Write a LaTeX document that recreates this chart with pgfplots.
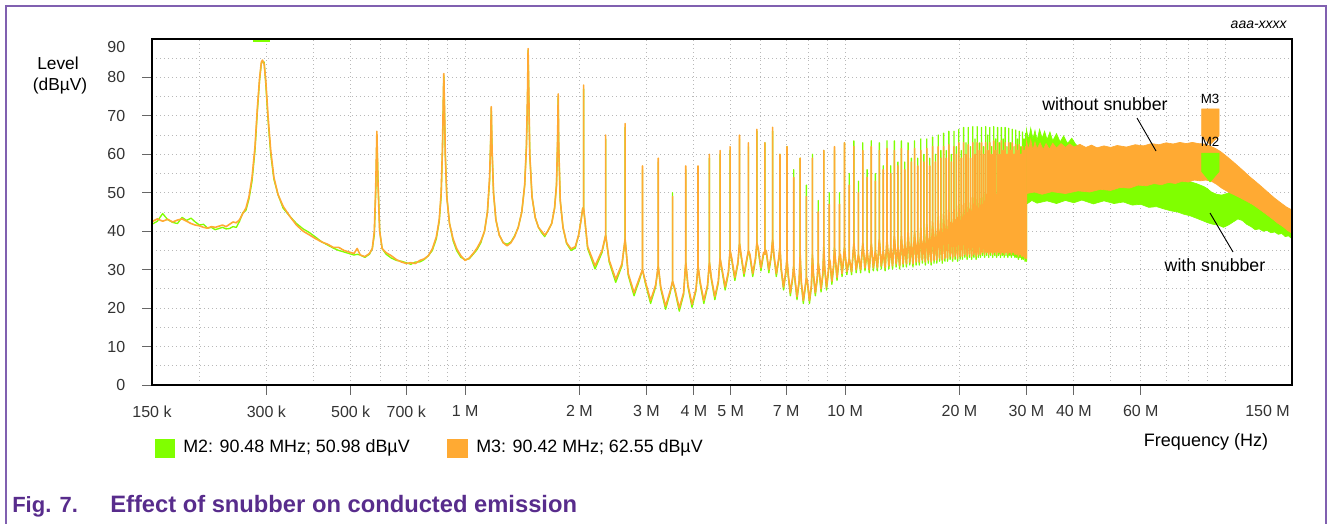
\documentclass[border=0pt]{standalone}
\usepackage{fontspec}
\setmainfont{Liberation Sans}
\usepackage{pgfplots}
\pgfplotsset{compat=1.18}
\usepackage{pgfplotstable}
\definecolor{cgreen}{RGB}{128,255,0}
\definecolor{corange}{RGB}{255,170,51}
\definecolor{cpurple}{RGB}{88,44,140}
\definecolor{cframe}{RGB}{128,96,176}

\pgfplotstableread{
f o g
0.150 42.5 41.8
0.155 43.2 42.6
0.160 42.6 44.6
0.165 43.1 43.0
0.170 42.4 42.3
0.175 42.9 42.0
0.180 43.2 43.6
0.185 42.6 42.8
0.190 42.0 43.4
0.195 41.6 42.4
0.200 41.4 41.6
0.205 41.0 41.8
0.210 40.8 40.8
0.215 41.2 41.0
0.220 41.0 40.4
0.230 41.6 41.0
0.235 41.2 40.6
0.240 41.8 40.7
0.245 42.4 41.2
0.250 42.2 41.0
0.255 43.0 42.6
0.260 44.6 44.8
0.265 46.0 45.4
0.270 49.0 48.4
0.275 54.0 53.0
0.280 62.0 61.0
0.284 72.0 71.0
0.288 80.0 79.5
0.291 84.0 83.6
0.293 84.5 84.2
0.296 83.5 84.0
0.299 79.0 78.0
0.303 70.0 69.0
0.308 61.0 60.0
0.314 54.0 53.5
0.322 49.5 49.5
0.332 46.5 46.0
0.345 44.0 44.0
0.360 41.6 42.0
0.375 40.0 40.6
0.390 39.0 39.6
0.405 38.0 38.4
0.420 37.2 37.2
0.435 36.6 36.4
0.450 35.8 35.6
0.465 35.8 35.0
0.480 35.0 34.6
0.495 34.6 34.2
0.510 34.2 33.8
0.520 35.5 34.0
0.530 33.8 33.8
0.545 33.4 33.2
0.560 34.2 34.0
0.570 35.5 35.5
0.577 40.0 39.0
0.582 52.0 50.0
0.586 66.0 64.5
0.590 52.0 54.0
0.596 40.0 40.0
0.605 35.5 35.5
0.620 34.4 34.0
0.640 33.6 33.0
0.660 32.6 32.4
0.680 32.0 32.2
0.700 31.6 31.8
0.720 31.8 31.4
0.740 31.6 32.0
0.760 32.4 32.0
0.780 32.8 32.6
0.800 33.6 33.6
0.820 35.4 35.0
0.840 38.5 38.0
0.855 43.0 42.5
0.865 50.0 49.0
0.872 62.0 61.0
0.877 76.0 75.0
0.879 81.0 80.5
0.882 74.0 74.0
0.887 60.0 60.0
0.895 49.0 49.0
0.910 42.0 42.0
0.930 38.0 37.5
0.950 35.5 35.0
0.975 33.6 33.2
1.000 32.4 32.6
1.025 33.0 32.8
1.050 34.2 34.0
1.075 35.6 35.2
1.100 37.4 37.0
1.125 40.0 40.0
1.145 45.0 45.0
1.160 54.0 53.0
1.168 64.0 64.0
1.172 72.4 72.0
1.177 62.0 62.0
1.188 50.0 50.0
1.205 43.0 43.0
1.230 39.0 39.0
1.260 37.0 37.0
1.290 36.2 36.6
1.320 37.0 37.2
1.350 38.6 38.8
1.380 41.0 41.0
1.410 45.0 45.0
1.435 52.0 52.0
1.450 62.0 62.0
1.460 76.0 74.0
1.465 87.5 87.0
1.470 78.0 78.0
1.480 60.0 60.0
1.500 49.0 49.0
1.530 43.5 43.5
1.560 41.0 41.0
1.590 40.0 39.6
1.620 39.0 38.6
1.650 40.0 40.0
1.690 42.0 42.0
1.720 46.0 46.0
1.740 52.0 52.0
1.752 64.0 64.0
1.758 75.7 75.0
1.764 62.0 62.0
1.780 48.0 48.0
1.810 41.0 41.0
1.850 37.0 36.8
1.900 35.4 35.0
1.950 36.0 35.6
1.990 39.0 39.0
2.020 43.0 43.0
2.040 46.0 46.0
2.051 46 46
2.051 78 77
2.051 46 46
2.101 36 35.5
2.198 31 30.2
2.294 35 34.5
2.344 39 39
2.344 65 64
2.344 39 39
2.394 32.5 32
2.491 27.5 26.7
2.587 31.5 31
2.637 38 38
2.637 68 67
2.637 38 38
2.687 29 28.5
2.784 24 23.2
2.880 28 27.5
2.930 30 30
2.930 57 56
2.930 30 30
2.980 27 26.5
3.077 22 21.2
3.173 26 25.5
3.223 31 31
3.223 59 58
3.223 31 31
3.273 25.5 25
3.370 20.5 19.7
3.466 24.5 24
3.516 27 27
3.516 49 50
3.516 27 27
3.566 25 24.5
3.662 20 19.2
3.759 24 23.5
3.809 32 32
3.809 57 56
3.809 32 32
3.859 26 25.5
3.956 21 20.2
4.052 25 24.5
4.102 31 31
4.102 57 56
4.102 31 31
4.152 27 26.5
4.249 22 21.2
4.345 26 25.5
4.395 32 32
4.395 60 59
4.395 32 32
4.445 28 27.5
4.542 23 22.2
4.638 27 26.5
4.688 33 33
4.688 61 60
4.688 33 33
4.738 30.5 30
4.835 25.5 24.7
4.931 29.5 29
4.981 35 35
4.981 62 61
4.981 35 35
5.031 33 32.5
5.128 28 27.2
5.224 32 31.5
5.274 37 37
5.274 65 64
5.274 37 37
5.324 34 33.5
5.420 29 28.2
5.517 33 32.5
5.567 35 35
5.567 63 62
5.567 35 35
5.617 34 33.5
5.714 29 28.2
5.810 33 32.5
5.860 37 37
5.860 66.5 66
5.860 37 37
5.910 35.5 35
6.006 30.5 29.7
6.103 34.5 34
6.153 34 34
6.153 63 63
6.153 34 34
6.203 35 34.5
6.300 30 29.2
6.396 34 33.5
6.446 38 38
6.446 67 66
6.446 38 38
6.496 34 33.5
6.592 29 28.2
6.689 33 32.5
6.739 36 36
6.739 60 60
6.739 36 36
6.789 30.5 30
6.886 25.5 24.7
6.982 29.5 29
7.032 33 33
7.032 62 62
7.032 33 33
7.082 29 28.5
7.178 24 23.2
7.275 28 27.5
7.325 31 31
7.325 54 56
7.325 31 31
7.375 28 27.5
7.472 23 22.2
7.568 27 26.5
7.618 34 34
7.618 59 59
7.618 34 34
7.668 27 26.5
7.764 22 21.2
7.861 26 25.5
7.911 28 28
7.911 49 52
7.911 28 28
7.961 27 26.5
8.058 22 21.2
8.154 26 25.5
8.204 34 34
8.204 59 60
8.204 34 34
8.254 29 28.5
8.350 24 23.2
8.447 28 27.5
8.497 32 32
8.497 45 48
8.497 32 32
8.547 30 29.5
8.644 25 24.2
8.740 29 28.5
8.790 36 36
8.790 61 61
8.790 36 36
8.840 30.5 30
8.936 25.5 24.7
9.033 29.5 29
9.083 33 33
9.083 47 50
9.083 33 33
9.133 32 31.5
9.230 27 26.2
9.326 31 30.5
9.376 36 36
9.376 62 61
9.376 36 36
9.426 33 32.5
9.522 28 27.2
9.619 32 31.5
9.669 34 34
9.669 47 50
9.669 34 34
9.719 34 33.5
9.816 29 28.2
9.912 33 32.5
9.962 36 36
9.962 63 63
9.962 36 36
10.108 29.5 28.7
10.255 33 33
10.255 52 55
10.255 33 33
10.402 29.5 28.7
10.548 37 37
10.548 62 63.5
10.548 37 37
10.695 30 29.2
10.841 34 34
10.841 50 53
10.841 34 34
10.988 30 29.2
11.134 37 37
11.134 61 63
11.134 37 37
11.281 30.5 29.7
11.427 35 35
11.427 54 56
11.427 35 35
11.574 30 29.2
11.720 37 37
11.720 62 63.5
11.720 37 37
11.867 30.5 29.7
12.013 35 35
12.013 53 55
12.013 35 35
12.160 30.5 29.7
12.306 38 38
12.306 61 63
12.306 38 38
12.452 31 30.2
12.599 35 35
12.599 56 57
12.599 35 35
12.746 30.5 29.7
12.892 38 38
12.892 61.5 63.5
12.892 38 38
13.038 31 30.2
13.185 36 36
13.185 55 57
13.185 36 36
13.332 31 30.2
13.478 39 39
13.478 61 63.5
13.478 39 39
13.624 31.5 30.7
13.771 36 36
13.771 57 58
13.771 36 36
13.918 31 30.2
14.064 39 39
14.064 61.5 63.5
14.064 39 39
14.210 31.5 30.7
14.357 37 37
14.357 56 58
14.357 37 37
14.504 31.5 30.7
14.650 40 40
14.650 61 63
14.650 40 40
14.796 32 31.2
14.943 37 37
14.943 58 59
14.943 37 37
15.090 31.5 30.7
15.236 40 40
15.236 61.5 63.5
15.236 40 40
15.382 32 31.2
15.529 38 38
15.529 57 59
15.529 38 38
15.676 32 31.2
15.822 41 41
15.822 61 64
15.822 41 41
15.968 32.5 31.7
16.115 38 38
16.115 58 60
16.115 38 38
16.262 32 31.2
16.408 42 42
16.408 61.5 64
16.408 42 42
16.554 32.5 31.7
16.701 39 39
16.701 57 59
16.701 39 39
16.848 32 31.2
16.994 43 43
16.994 62 64.5
16.994 43 43
17.140 32.5 31.7
17.287 40 40
17.287 58 60
17.287 40 40
17.434 32.5 31.7
17.580 44 44
17.580 62 65
17.580 44 44
17.726 33 32.2
17.873 41 41
17.873 59 61
17.873 41 41
18.020 32.5 31.7
18.166 45 45
18.166 62 65.5
18.166 45 45
18.312 33 32.2
18.459 42 42
18.459 59 61
18.459 42 42
18.606 33 32.2
18.752 46 46
18.752 62.5 66
18.752 46 46
18.898 33.5 32.7
19.045 43 43
19.045 58 60
19.045 43 43
19.192 33 32.2
19.338 46 46
19.338 62 66
19.338 46 46
19.484 33.5 32.7
19.631 44 44
19.631 60 62
19.631 44 44
19.778 33 32.2
19.924 47 47
19.924 63 66.5
19.924 47 47
20.070 33.5 32.7
20.217 45 45
20.217 59 61
20.217 45 45
20.364 33.5 32.7
20.510 48 48
20.510 63 67
20.510 48 48
20.656 34 33.2
20.803 45 45
20.803 60 63
20.803 45 45
20.950 33.5 32.7
21.096 48 48
21.096 62.5 67
21.096 48 48
21.242 34 33.2
21.389 46 46
21.389 59 62
21.389 46 46
21.536 33.5 32.7
21.682 49 49
21.682 63 67.2
21.682 49 49
21.828 34 33.2
21.975 46 46
21.975 60 64
21.975 46 46
22.122 33.5 32.7
22.268 49 49
22.268 63 67.2
22.268 49 49
22.414 34 33.2
22.561 47 47
22.561 61 63
22.561 47 47
22.708 34 33.2
22.854 50 50
22.854 63 67
22.854 50 50
23.000 34.5 33.7
23.147 47 47
23.147 60 62
23.147 47 47
23.294 34 33.2
23.440 50 50
23.440 63 67.2
23.440 50 50
23.586 34.5 33.7
23.733 47 47
23.733 61 65
23.733 47 47
23.880 34 33.2
24.026 50 50
24.026 63 67
24.026 50 50
24.172 34.5 33.7
24.319 48 48
24.319 60 62
24.319 48 48
24.466 34 33.2
24.612 50 50
24.612 63.5 67.2
24.612 50 50
24.758 34.5 33.7
24.905 48 48
24.905 61 64
24.905 48 48
25.052 34 33.2
25.198 51 51
25.198 63 67
25.198 51 51
25.344 34.5 33.7
25.491 48 48
25.491 60 63
25.491 48 48
25.638 34 33.2
25.784 51 51
25.784 63.5 67
25.784 51 51
25.930 34.5 33.7
26.077 48 48
26.077 61 64
26.077 48 48
26.224 34 33.2
26.370 51 51
26.370 63 67
26.370 51 51
26.516 34.5 33.7
26.663 49 49
26.663 60 62
26.663 49 49
26.810 34 33.2
26.956 51 51
26.956 63 66.8
26.956 51 51
27.102 34.5 33.7
27.249 49 49
27.249 61 63
27.249 49 49
27.396 34 33.2
27.542 51 51
27.542 63 66.5
27.542 51 51
27.688 34.5 33.7
27.835 49 49
27.835 60 62
27.835 49 49
27.982 34 33.2
28.128 51 51
28.128 62.5 66.3
28.128 51 51
28.274 34 33.2
28.421 49 49
28.421 61 64
28.421 49 49
28.568 33.5 32.7
28.714 51 51
28.714 62.5 66
28.714 51 51
28.860 34 33.2
29.007 49 49
29.007 60 62
29.007 49 49
29.154 33.5 32.7
29.300 50 50
29.300 62 65.8
29.300 50 50
29.446 33.5 32.7
29.593 49 49
29.593 61 64
29.593 49 49
29.740 33 32.2
29.886 50 50
29.886 62 65.5
29.886 50 50
29.950 33.5 32.7
30.000 33 32.2
30.000 50 47
}\spec

\begin{document}
\begin{tikzpicture}[x=0.75pt,y=0.75pt]
\useasboundingbox (0,0) rectangle (1328,524);
\draw[cframe, line width=1.2pt] (6,0) -- (6,518) -- (1326,518) -- (1326,0);
\begin{axis}[
  at={(114pt,104.25pt)}, anchor=south west,
  scale only axis, width=855pt, height=259.5pt,
  xmode=log, xmin=0.15, xmax=150, ymin=0, ymax=90,
  tick pos=left, tick align=outside,
  major tick length=7.5pt, minor tick length=0pt,
  tick style={black!60, line width=0.6pt},
  axis line style={black, line width=0.8pt},
  xtick={0.3,0.5,0.7,1,2,3,4,5,7,10,20,30,40,60},
  xticklabels={300 k,500 k,700 k,1 M,2 M,3 M,4 M,5 M,7 M,10 M,20 M,30 M,40 M,60 M},
  extra x ticks={0.15}, extra x tick labels={150 k},
  extra x tick style={grid=none, tick style={draw=none}},
  minor xtick={0.2,0.4,0.6,0.8,0.9,6,8,9,50,70,80,90,100},
  ytick={0,10,20,30,40,50,60,70,80},
  yticklabels={0,10,20,30,40,50,60,70,80},
  extra y ticks={90}, extra y tick labels={90},
  extra y tick style={grid=none, tick style={draw=none}, yticklabel style={yshift=-6pt}},
  minor ytick={5,15,25,35,45,55,65,75,85},
  grid=both,
  grid style={line width=0.7pt, black!28, dash pattern=on 0.7pt off 2.3pt},
  xticklabel style={font=\fontsize{12}{14}\selectfont, text=black!80, yshift=-4.5pt},
  yticklabel style={font=\fontsize{12}{14}\selectfont, text=black!80, xshift=-9pt},
]
\addplot[cgreen, line width=1pt, line join=round] table[x=f,y=g]{\spec};
\addplot[fill=cgreen, draw=cgreen, line width=0.5pt] coordinates {
(30,66.5)(30.4,63.8)(30.8,66.8)(31.2,64)(31.6,66.2)(32,63.6)(32.5,66.5)(33,64.2)(33.5,66)(34,63.8)(34.6,65.8)(35.2,63.5)(36,65.4)(36.8,63.2)(37.6,64.8)(38.5,62.8)(39.5,64.2)(40.5,62.5)(42,61.8)(44,61.2)(46,60.6)(50,59.8)(55,58)(60,56.5)(65,55.2)(70,54.2)(75,53.6)(80,53)(84,52.4)(88,51.6)(90,51)(92,50.2)(95,49.6)(98,49.4)(101,49.8)(104,50.2)(107,50.6)(110,50.4)(113,49.8)(116,49)(120,48)(125,46.8)(130,45.6)(135,44.5)(140,43.5)(145,42.5)(150,41.8)
(150,38)(147,38.8)(144,38.6)(141,39.4)(138,39.2)(135,39.8)(132,39.6)(129,40.2)(126,40)(123,40.6)(120,40.4)(117,41.2)(114,41.8)(111,42.8)(108,43.2)(105,42.4)(102,41.6)(99,41)(96,41.6)(93,41.8)(90,42.2)(87,42.8)(84,43.4)(81,44)(78,44.4)(75,45)(72,45.3)(69,45.8)(66,46.4)(63,46.2)(60,47)(57,46.8)(54,47.6)(51,47.2)(48,47.9)(45,47.1)(42,48.1)(40,47.4)(38,48)(36,47.2)(34,47.9)(32,47.3)(31,48)(30,47)
} --cycle;
\addplot[corange, line width=1.2pt, line join=round] table[x=f,y=o]{\spec};
\addplot[fill=corange, draw=corange, line width=0.5pt] coordinates {
(30,63.5)(30.4,61.2)(30.8,63.8)(31.2,61)(31.6,63.2)(32,61.4)(32.6,63)(33.2,61.2)(33.8,62.8)(34.5,61.3)(35.2,62.9)(36,61.6)(37,62.8)(38,61.8)(39,62.7)(40,61.9)(41.5,62.6)(43,61.8)(44.5,62.4)(46,61.7)(48,62.2)(50,61.8)(52,62.3)(55,61.9)(58,62.5)(61,62.2)(64,62.8)(67,62.5)(70,63)(73,62.7)(76,63.1)(79,62.8)(82,63.1)(85,62.8)(88,62.7)(91,62.2)(94,61.6)(97,60.8)(100,59.8)(104,58.4)(108,57)(112,55.6)(116,54.2)(120,53)(125,51.5)(130,50)(135,48.6)(140,47.4)(145,46.3)(150,45.5)
(150,39.5)(146,40.2)(142,41.2)(138,42)(134,43)(130,44)(126,45)(122,46)(118,47)(114,47.8)(110,48.6)(106,49.4)(102,50.2)(98,51.2)(95,52.2)(92,53)(89,53.3)(86,53.1)(83,53.3)(80,52.8)(77,53)(74,52.4)(71,52.7)(68,52.1)(65,52.4)(62,51.8)(59,52)(56,51.2)(53,51.4)(50,50.6)(47,50.9)(44,50.2)(41,50.5)(38,49.8)(35,50.3)(33,49.6)(31.5,50.2)(30,49.8)
} --cycle;
% M3 and M2 markers
\addplot[fill=corange, draw=corange] coordinates {(86.8,71.8)(96.4,71.8)(96.4,64.8)(91.3,62.5)(86.8,64.8)} --cycle;
\addplot[fill=cgreen, draw=cgreen] coordinates {(86.8,60.3)(96.4,60.3)(96.4,55.5)(91.3,52.8)(86.8,55.5)} --cycle;
\addplot[cgreen, line width=4pt] coordinates {(0.277,90)(0.306,90)};
\node[font=\fontsize{10}{12}\selectfont] at (axis cs:91.3,74.4) {M3};
\node[font=\fontsize{10}{12}\selectfont] at (axis cs:91.3,63.2) {M2};
\end{axis}
\draw[black, line width=0.9pt] (152,139) rectangle (1292,485);
% axis titles
\node[font=\fontsize{13}{15}\selectfont] at (58,461) {Level};
\node[font=\fontsize{13}{15}\selectfont] at (60,438) {(dBµV)};
\node[font=\fontsize{13.5}{16}\selectfont] at (1206,82) {Frequency (Hz)};
\node[font=\fontsize{12}{14}\selectfont, text=black!80, anchor=east, inner sep=0pt] at (1290,113) {150 M};
\node[font=\fontsize{10.5}{12}\itshape, anchor=east, inner sep=0pt] at (1287,499) {aaa-xxxx};
% annotations
\node[font=\fontsize{13.3}{15}\selectfont] at (1105,420) {without snubber};
\draw[black, line width=0.7pt] (1137,406) -- (1156,373);
\node[font=\fontsize{13.3}{15}\selectfont] at (1215,259) {with snubber};
\draw[black, line width=0.7pt] (1210,311) -- (1233,272);
% legend
\fill[cgreen] (155,66) rectangle (175,85);
\node[font=\fontsize{13.4}{15}\selectfont, anchor=west, inner sep=0pt] at (183,76) {M2: 90.48 MHz; 50.98 dBµV};
\fill[corange] (447,66) rectangle (468,85);
\node[font=\fontsize{13.4}{15}\selectfont, anchor=west, inner sep=0pt] at (476,76) {M3: 90.42 MHz; 62.55 dBµV};
% caption
\node[font=\fontsize{16.5}{18}\bfseries, text=cpurple, anchor=base west, inner sep=0pt] at (12,11) {Fig. 7.};
\node[font=\fontsize{17.8}{20}\bfseries, text=cpurple, anchor=base west, inner sep=0pt] at (110,11) {Effect of snubber on conducted emission};
\end{tikzpicture}
\end{document}
